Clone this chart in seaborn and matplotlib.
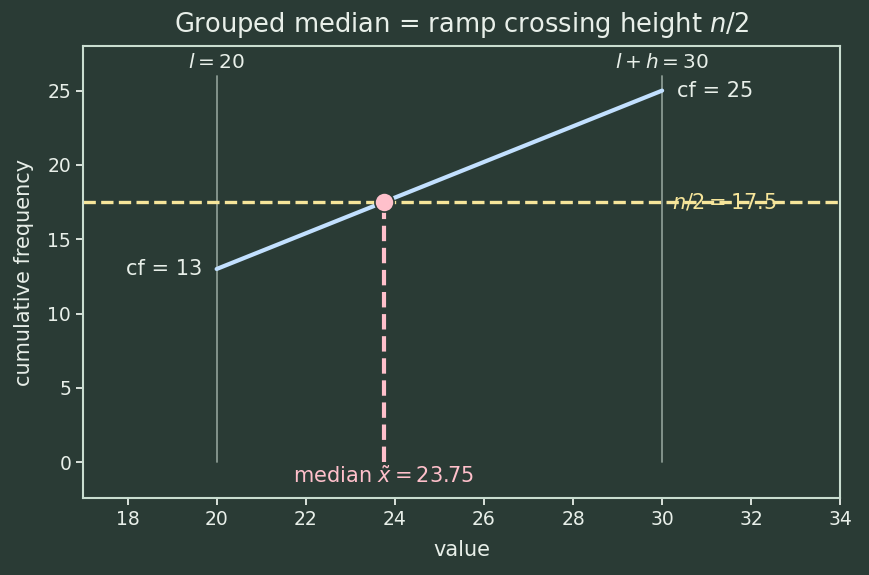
import numpy as np
import pandas as pd
import seaborn as sns
import matplotlib.pyplot as plt

# Datos del intervalo de la mediana
l = 20
h = 10
cf_lo = 13
cf_hi = 25
n_half = 17.5
median_x = 23.75
ramp_x = [l, l + h]
ramp_y = [cf_lo, cf_hi]
x_ticks = [18, 20, 22, 24, 26, 28, 30, 32, 34]
y_ticks = [0, 5, 10, 15, 20, 25]

bg = '#2a3b35'
fg = '#e8efe9'
blue = '#c2e0ff'
yellow = '#f6e59a'
pink = '#ffc0cb'

sns.set_theme(style='dark', rc={
    'figure.facecolor': bg, 'axes.facecolor': bg,
    'axes.edgecolor': '#c9ddd0', 'text.color': fg,
    'axes.labelcolor': fg, 'xtick.color': fg, 'ytick.color': fg,
    'axes.grid': False, 'axes.linewidth': 1.5,
})
plt.rcParams['font.family'] = ['DejaVu Sans']

fig, ax = plt.subplots(figsize=(8.69, 5.75), dpi=100)

# Líneas verticales de los límites del intervalo
for xv in ramp_x:
    ax.plot([xv, xv], [0, 26], color='#8a9a92', lw=1.3)

ax.text(l, 26.25, r'$l = 20$', ha='center', va='bottom', fontsize=14.5)
ax.text(l + h, 26.25, r'$l + h = 30$', ha='center', va='bottom', fontsize=14.5)

# Rampa de frecuencia acumulada
df = pd.DataFrame({'x': ramp_x, 'y': ramp_y})
sns.lineplot(data=df, x='x', y='y', ax=ax, color=blue, lw=3)

ax.axhline(n_half, color=yellow, ls='--', lw=2.4)
ax.plot([median_x, median_x], [0, n_half], color=pink, ls='--', lw=3)
sns.scatterplot(x=[median_x], y=[n_half], ax=ax, color=pink, s=190,
                edgecolor=bg, linewidth=1.2, zorder=5)

ax.text(30.33, cf_hi, 'cf = 25', ha='left', va='center', fontsize=15)
ax.text(19.68, cf_lo, 'cf = 13', ha='right', va='center', fontsize=15)
ax.text(30.22, n_half, r'$n/2 = 17.5$', ha='left', va='center', fontsize=15, color=yellow)
ax.text(median_x, -0.95, r'median $\tilde{x} = 23.75$', ha='center', va='center',
        fontsize=15, color=pink)

ax.set_xlim(17, 34)
ax.set_ylim(-2.4, 28)
ax.set_xticks(x_ticks)
ax.set_yticks(y_ticks)
ax.tick_params(labelsize=13.5, length=5, width=1.3, bottom=True, left=True)
ax.set_xlabel('value', fontsize=15, labelpad=8)
ax.set_ylabel('cumulative frequency', fontsize=15, labelpad=10)
ax.set_title(r'Grouped median = ramp crossing height $n/2$', fontsize=18.5, pad=10)

plt.subplots_adjust(left=0.0955, right=0.967, top=0.92, bottom=0.134)
plt.savefig('out.png', facecolor=bg)
